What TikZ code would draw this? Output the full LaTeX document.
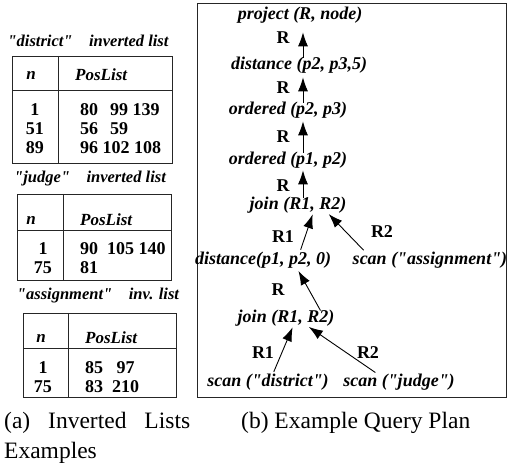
\documentclass[tikz,border=0pt]{standalone}
\usepackage{fontspec}
\setmainfont{Liberation Serif}[Ligatures=TeXOff]
\usetikzlibrary{arrows.meta}
\begin{document}
\begin{tikzpicture}[x=1pt,y=-1pt,
  op/.style={font=\fontsize{18}{20}\selectfont\bfseries\itshape, inner sep=0pt},
  lab/.style={font=\fontsize{18}{20}\selectfont\bfseries, inner sep=0pt},
  ttl/.style={font=\fontsize{16.5}{18}\selectfont\bfseries\itshape, inner sep=0pt},
  hd/.style={font=\fontsize{17}{18}\selectfont\bfseries\itshape, inner sep=0pt},
  num/.style={font=\fontsize{18}{19}\selectfont\bfseries, inner sep=0pt},
  lst/.style={num, anchor=west},
  tbl/.style={draw=black!85, line width=0.9pt},
  arr/.style={-{Latex[length=14pt,width=10pt]}, line width=0.9pt},
  captxt/.style={font=\fontsize{23.5}{30}\selectfont, inner sep=0pt}]
\useasboundingbox (0,0) rectangle (507,465);
% ---------- left: inverted lists ----------
% table 1
\node[ttl] (t1) at (88,41) {"district"\quad inverted list};
\draw[tbl] (12,56) rectangle (172,163);
\draw[tbl] (58,56) -- (58,163);
\draw[tbl] (12,90) -- (172,90);
\node[hd] (t1n) at (31,75) {n};
\node[hd, anchor=west] (t1p) at (75,75) {PosList};
\node[num] (t1a) at (35,110) {1};
\node[num] (t1b) at (35,129) {51};
\node[num] (t1c) at (35,148) {89};
\node[lst] (t1d) at (80,110) {80\ \ \,99\ 139};
\node[lst] (t1e) at (80,129) {56\ \ \,59};
\node[lst] (t1f) at (80,148) {96\ 102\ 108};
% table 2
\node[ttl] (t2) at (90,179) {"judge"\quad inverted list};
\draw[tbl] (17,194) rectangle (171,280);
\draw[tbl] (63,194) -- (63,280);
\draw[tbl] (17,230) -- (171,230);
\node[hd] (t2n) at (31,220) {n};
\node[hd, anchor=west] (t2p) at (80,220) {PosList};
\node[num] (t2a) at (43,249) {1};
\node[num] (t2b) at (43,268) {75};
\node[lst] (t2c) at (80,249) {90\ \ 105\ 140};
\node[lst] (t2d) at (80,268) {81};
% table 3
\node[ttl] (t3) at (98,296) {"assignment"\quad inv. list};
\draw[tbl] (23,313) rectangle (176,397);
\draw[tbl] (68,313) -- (68,397);
\draw[tbl] (23,348) -- (176,348);
\node[hd] (t3n) at (41,338) {n};
\node[hd, anchor=west] (t3p) at (85,338) {PosList};
\node[num] (t3a) at (43,368) {1};
\node[num] (t3b) at (43,387) {75};
\node[lst] (t3c) at (85,368) {85\ \ \ 97};
\node[lst] (t3d) at (85,387) {83\ \ 210};
% ---------- right: query plan ----------
\draw[tbl] (197,3) rectangle (506,397);
\coordinate (ax) at (303,0);
\node[op] (proj) at (300,15) {project (R, node)};
\node[op] (dist1) at (299,65) {distance (p2, p3,5)};
\node[op] (ord1) at (288,110) {ordered (p2, p3)};
\node[op] (ord2) at (288,160) {ordered (p1, p2)};
\node[op] (join1) at (298,205) {join (R1, R2)};
\node[op] (dist2) at (263,260) {distance(p1, p2, 0)};
\node[op] (scanA) at (430,260) {scan ("assignment")};
\node[op] (join2) at (286,318) {join (R1, R2)};
\node[op] (scanD) at (268,382) {scan ("district")};
\node[op] (scanJ) at (399,382) {scan ("judge")};
\node[lab] (l1) at (283,38) {R};
\node[lab] (l2) at (283,88) {R};
\node[lab] (l3) at (283,137) {R};
\node[lab] (l4) at (283,186) {R};
\node[lab] (l5) at (283,237) {R1};
\node[lab] (l6) at (382,232) {R2};
\node[lab] (l7) at (278,290) {R};
\node[lab] (l8) at (263,353) {R1};
\node[lab] (l9) at (368,353) {R2};
\draw[arr, shorten <=-1pt, shorten >=9pt] (dist1.north -| ax) -- (proj.south -| ax);
\draw[arr, shorten <=-1pt, shorten >=4pt] (ord1.north -| ax) -- (dist1.south -| ax);
\draw[arr, shorten <=-1pt, shorten >=3pt] (ord2.north -| ax) -- (ord1.south -| ax);
\draw[arr, shorten <=-1pt, shorten >=2pt] (join1.north -| ax) -- (ord2.south -| ax);
\draw[arr, shorten <=2pt, shorten >=1pt] ([xshift=37pt]dist2.north) -- ([xshift=15pt]join1.south);
\draw[arr, shorten <=2pt, shorten >=1pt] ([xshift=-65pt]scanA.north) -- ([xshift=30pt]join1.south);
\draw[arr, shorten <=-1pt, shorten >=3pt] ([xshift=34pt]join2.north) -- ([xshift=34pt]dist2.south);
\draw[arr, shorten <=2pt, shorten >=1pt] ([xshift=5pt]scanD.north) -- ([xshift=7pt]join2.south);
\draw[arr, shorten <=2pt, shorten >=1pt] ([xshift=-22pt]scanJ.north) -- ([xshift=22pt]join2.south);
% ---------- captions ----------
\node[captxt, anchor=north west, align=left] (capa) at (4,412) {\makebox[186pt][s]{(a) Inverted Lists}\\Examples};
\node[captxt, anchor=north west] (capb) at (241,412) {(b) Example Query Plan};
\end{tikzpicture}
\end{document}
